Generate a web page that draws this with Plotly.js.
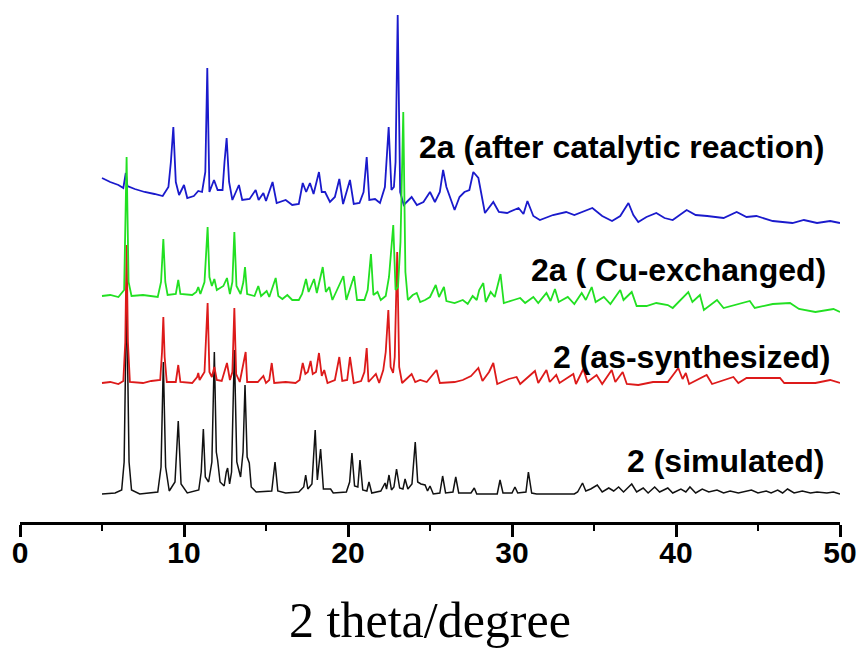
<!DOCTYPE html>
<html>
<head>
<meta charset="utf-8">
<script src="https://cdn.plot.ly/plotly-3.0.1.min.js"></script>
<style>html,body{margin:0;padding:0;background:#fff;}#chart{width:861px;height:649px;}</style>
</head>
<body>
<div id="chart"></div>
<script>
// 2 (simulated) - black
const simX = [5.0,5.8,6.2,6.35,6.5,6.65,6.8,7.3,8.4,8.6,8.74,8.88,9.1,9.45,9.65,9.82,10.2,10.9,11.05,11.18,11.3,11.5,11.7,11.85,11.97,12.05,12.2,12.45,12.58,12.66,12.78,12.9,13.07,13.22,13.45,13.6,13.72,13.85,13.98,14.1,14.4,15.35,15.55,15.72,16.2,17.0,17.3,17.42,17.55,17.8,18.0,18.13,18.33,18.5,18.94,19.1,19.9,20.1,20.24,20.4,20.6,20.73,20.9,21.15,21.28,21.45,22.0,22.15,22.26,22.35,22.5,22.65,22.8,22.96,23.15,23.35,23.48,23.65,23.9,24.1,24.25,24.45,24.7,24.85,25.0,25.2,25.6,25.77,25.95,26.4,26.57,26.75,27.5,27.7,27.85,29.1,29.27,29.45,30.0,30.18,30.35,30.85,31.0,31.2,31.5,33.8,34.0,34.3,34.5,34.8,35.2,35.5,35.9,36.2,36.5,36.8,37.3,37.6,38.0,38.3,38.7,39.0,39.5,39.8,40.3,40.6,40.85,41.2,41.6,42.0,42.5,42.9,43.3,43.8,44.6,45.0,45.5,45.8,46.2,46.5,46.8,47.2,47.7,48.2,48.6,49.2,49.6,50.0];
const simY = [28,29,32,60,230,60,32,28,30,55,160,55,31,40,101,38,29,32,50,93,45,40,60,170,70,62,40,36,50,54,38,50,172,60,45,70,137,65,59,35,30,31,60,31,29,30,35,47,33,38,92,42,73,33,33,29,30,40,69,36,35,62,32,31,40,29,31,36,39,33,47,32,35,53,34,33,43,33,38,80,40,38,37,31,36,28,29,46,29,30,45,29,29,34,28,28,42,29,29,35,29,30,50,29,28,28,30,39,31,33,37,30,34,31,35,30,38,30,34,29,35,30,34,29,33,30,35,29,33,30,32,29,31,29,32,29,31,29,32,29,33,29,31,29,30,29,30,28];

// 2 (as-synthesized) - red
const asX = [5.0,5.5,6.0,6.3,6.42,6.5,6.58,6.7,7.5,8.0,8.55,8.66,8.74,8.82,8.95,9.5,9.65,9.78,10.5,10.8,10.87,10.95,11.25,11.44,11.55,11.7,11.85,12.0,12.3,12.62,12.8,12.95,13.07,13.18,13.4,13.76,13.85,14.5,14.84,15.0,15.2,15.35,15.5,16.2,16.8,17.05,17.24,17.4,17.55,17.72,17.85,18.05,18.23,18.4,18.55,18.75,19.2,19.47,19.65,19.95,20.12,20.35,20.8,21.0,21.14,21.25,21.7,21.9,22.15,22.3,22.46,22.6,22.75,22.85,23.0,23.12,23.3,23.88,24.1,24.4,24.8,25.4,25.6,26.5,27.0,27.5,27.95,28.2,28.6,28.86,29.1,29.8,30.28,30.5,31.4,31.6,32.1,32.3,32.7,32.9,33.74,33.9,34.35,34.6,35.16,35.5,36.08,36.3,36.75,37.0,37.7,38.6,39.5,40.14,40.4,40.6,40.8,41.87,42.2,43.5,43.8,44.3,46.34,46.6,48.5,49.4,50.0];
const asY = [139,140,138,141,180,277,180,140,139,141,142,170,205,165,140,140,157,140,139,145,149,142,150,219,150,145,155,142,141,159,142,150,214,148,140,170,140,140,146,139,142,159,139,140,139,142,159,148,150,161,148,150,169,146,152,139,142,165,141,142,165,139,141,150,174,140,148,139,152,170,212,155,149,165,270,155,139,148,140,142,140,152,139,140,142,146,154,141,150,159,138,143,145,138,151,139,152,140,147,139,148,138,153,140,147,138,152,140,150,138,137,140,140,154,143,149,138,147,138,145,139,144,144,139,139,142,139];

// 2a (Cu-exchanged) - green
const cuX = [5.0,5.5,6.0,6.35,6.5,6.62,6.8,7.5,8.4,8.6,8.74,8.86,9.0,9.5,9.65,9.78,10.5,10.75,10.87,11.0,11.25,11.44,11.55,11.7,11.85,12.0,12.4,12.62,12.8,12.95,13.07,13.2,13.45,13.62,13.72,13.85,14.3,14.53,14.7,15.04,15.2,15.59,15.75,16.0,16.3,16.6,17.0,17.2,17.44,17.6,17.93,18.1,18.46,18.65,18.86,19.05,19.72,19.9,20.37,20.55,21.0,21.2,21.4,21.55,21.8,22.0,22.3,22.5,22.76,22.9,23.05,23.2,23.37,23.5,23.65,23.95,24.19,24.4,24.7,25.0,25.35,25.55,25.85,26.0,26.5,27.0,27.3,27.6,27.85,28.0,28.25,28.4,28.7,28.95,29.3,29.5,30.1,30.5,30.8,31.3,31.6,32.1,32.35,32.62,32.85,33.4,33.8,34.25,34.5,34.86,35.1,35.6,36.0,36.6,36.8,37.3,37.6,38.2,38.8,39.5,39.8,40.75,41.0,41.46,41.7,42.5,42.9,44.5,44.8,45.9,46.95,47.5,48.5,49.6,50.0];
const cuY = [226,227,225,232,365,240,226,227,225,240,283,240,227,228,242,228,227,230,235,228,240,295,245,236,243,232,236,244,228,240,290,236,228,240,255,228,226,236,226,231,225,244,226,223,227,222,222,228,243,230,243,229,255,230,235,222,246,222,246,222,222,232,268,227,230,222,226,245,297,232,235,280,410,250,222,227,229,220,222,225,237,225,235,221,219,222,218,226,222,232,239,220,230,225,248,219,222,224,219,225,219,229,221,233,220,225,218,229,222,235,220,225,218,232,222,230,216,216,219,217,214,230,220,227,212,222,214,221,214,218,219,213,210,213,210];

// 2a (after catalytic reaction) - blue
const catX = [5.0,5.5,6.0,6.3,6.45,6.55,7.0,7.6,8.2,8.7,9.05,9.2,9.35,9.5,9.7,10.0,10.2,10.6,10.87,11.1,11.3,11.42,11.55,11.83,12.05,12.35,12.47,12.6,12.75,12.95,13.35,13.55,14.0,14.37,14.55,14.84,15.0,15.4,15.65,16.2,16.6,17.0,17.24,17.45,17.68,17.9,18.23,18.4,18.6,18.9,19.2,19.47,19.7,20.12,20.35,20.7,20.95,21.14,21.3,21.65,21.95,22.25,22.48,22.65,22.8,22.9,23.03,23.18,23.4,23.88,24.2,24.6,25.0,25.3,25.6,25.8,26.0,26.5,26.8,27.1,27.4,27.64,27.95,28.35,28.86,29.2,29.7,30.4,30.7,30.94,31.3,31.7,32.5,33.3,33.8,34.9,35.5,36.1,36.6,37.1,37.4,37.7,38.2,38.8,39.3,39.8,40.65,41.2,41.9,42.9,43.7,44.3,44.9,45.9,46.5,47.1,47.8,48.6,49.4,50.0];
const catY = [344,340,337,334,349,336,333,330,328,326,335,360,395,340,327,337,324,326,331,330,350,454,330,342,332,332,360,384,340,322,337,322,323,332,322,329,321,340,319,322,317,318,339,330,339,328,350,330,330,320,325,343,318,342,318,319,330,365,322,323,319,335,395,332,335,360,507,330,317,325,317,320,330,320,330,352,335,312,325,330,332,350,344,309,320,310,309,314,308,321,306,302,307,310,307,314,306,301,306,319,307,300,305,309,304,302,312,307,306,304,310,305,306,301,300,299,302,299,301,299];

const labels = ['2 (simulated)', '2 (as-synthesized)', '2a ( Cu-exchanged)', '2a (after catalytic reaction)'];
const tickVals = [0, 10, 20, 30, 40, 50];
const tickText = ['0', '10', '20', '30', '40', '50'];

const traces = [
  {x: simX, y: simY, mode: 'lines', line: {color: '#111111', width: 1.5}},
  {x: asX, y: asY, mode: 'lines', line: {color: '#dd1a1a', width: 1.8}},
  {x: catX, y: catY, mode: 'lines', line: {color: '#1a1acc', width: 1.8}},
  {x: cuX, y: cuY, mode: 'lines', line: {color: '#22e022', width: 1.8}}
];

const labFont = {family: 'Liberation Sans, Arial, sans-serif', size: 32, color: '#000'};
function lab(t, x, y) {
  return {text: '<b>' + t + '</b>', x: x, y: y, xref: 'x', yref: 'y', xanchor: 'right', yanchor: 'middle', showarrow: false, font: labFont};
}

const layout = {
  width: 861, height: 649,
  margin: {l: 20, r: 21, t: 10, b: 127},
  paper_bgcolor: '#fff', plot_bgcolor: '#fff',
  showlegend: false,
  xaxis: {
    range: [0, 50], showgrid: false, zeroline: false,
    showline: true, linecolor: '#000', linewidth: 3,
    ticks: 'outside', ticklen: 12, tickwidth: 3, tickcolor: '#000',
    tickvals: tickVals, ticktext: tickText,
    ticklabelstandoff: -10,
    tickfont: {family: 'Liberation Sans, Arial, sans-serif', size: 30, color: '#000', weight: 'bold'},
    minor: {dtick: 5, tick0: 0, ticks: 'outside', ticklen: 6, tickwidth: 2, tickcolor: '#000', showgrid: false},
    title: {text: '2 theta/degree', font: {family: 'Liberation Serif, Times New Roman, serif', size: 50, color: '#000'}, standoff: 34}
  },
  yaxis: {range: [0, 512], visible: false, fixedrange: true},
  annotations: [
    lab(labels[3], 49.2, 375),
    lab(labels[2], 49.27, 252),
    lab(labels[1], 49.5, 165),
    lab(labels[0], 49.15, 61)
  ]
};

Plotly.newPlot('chart', traces, layout, {displayModeBar: false, staticPlot: true});
</script>
</body>
</html>
